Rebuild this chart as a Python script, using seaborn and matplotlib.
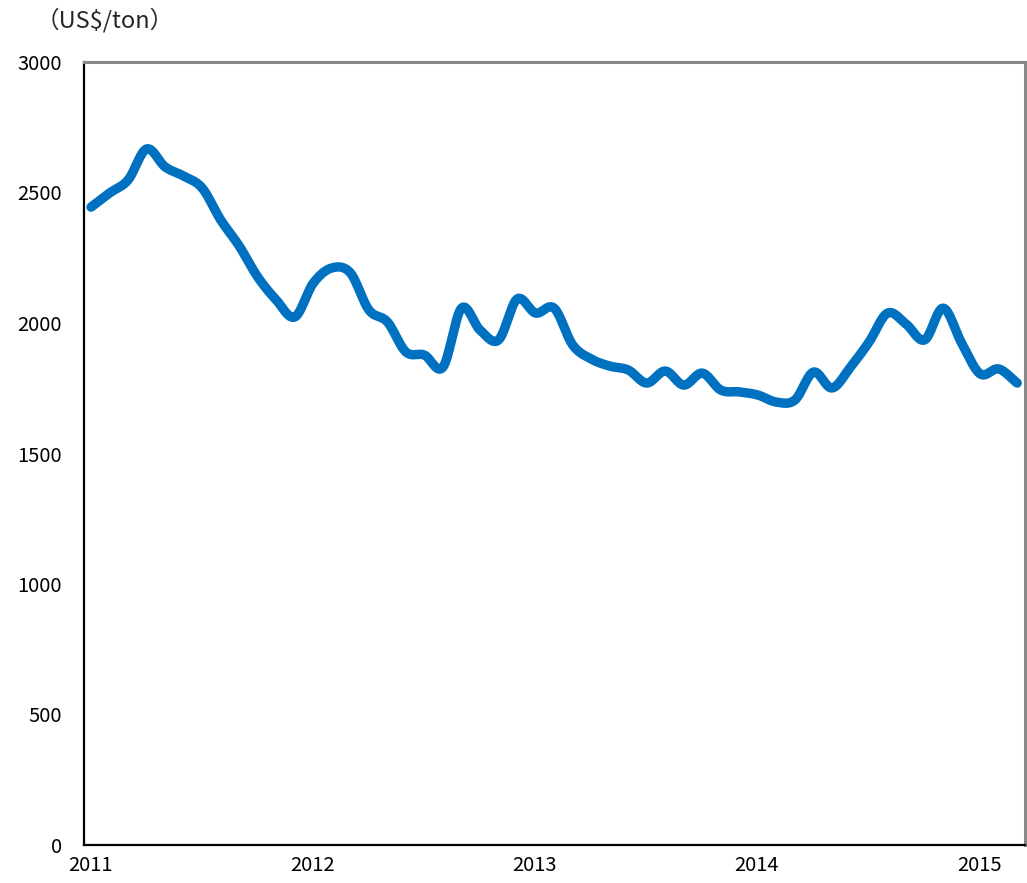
import numpy as np
import pandas as pd
import seaborn as sns
import matplotlib
matplotlib.use("Agg")
import matplotlib.pyplot as plt
from matplotlib.transforms import ScaledTranslation

# Monthly price, Jan 2011 - Mar 2015 (US$/ton)
prices = [2444, 2498, 2548, 2667, 2598, 2563, 2517, 2395, 2295, 2176, 2088, 2023,
          2153, 2211, 2192, 2050, 2004, 1889, 1877, 1831, 2057, 1973, 1935, 2092,
          2038, 2057, 1916, 1862, 1835, 1820, 1770, 1816, 1762, 1808, 1743, 1736,
          1724, 1697, 1705, 1812, 1751, 1831, 1927, 2038, 1996, 1935, 2057, 1923,
          1805, 1824, 1770]
start_year = 2011
year_ticks = [2011, 2012, 2013, 2014, 2015]
y_ticks = [0, 500, 1000, 1500, 2000, 2500, 3000]
unit_label = "（US$/ton）"

month_pos = start_year + (np.arange(len(prices)) + 0.38) / 12.0
df = pd.DataFrame({"t": month_pos, "price": prices})


def smooth(x, y, n=12):
    """Catmull-Rom style smoothing between consecutive points."""
    x = np.asarray(x, float)
    y = np.asarray(y, float)
    px = np.concatenate([[2 * x[0] - x[1]], x, [2 * x[-1] - x[-2]]])
    py = np.concatenate([[2 * y[0] - y[1]], y, [2 * y[-1] - y[-2]]])
    xs, ys = [], []
    s = np.linspace(0, 1, n, endpoint=False)
    for i in range(1, len(px) - 2):
        for arr, out in ((px, xs), (py, ys)):
            p0, p1, p2, p3 = arr[i - 1], arr[i], arr[i + 1], arr[i + 2]
            m1 = (p2 - p0) / 2.0
            m2 = (p3 - p1) / 2.0
            h00 = 2 * s**3 - 3 * s**2 + 1
            h10 = s**3 - 2 * s**2 + s
            h01 = -2 * s**3 + 3 * s**2
            h11 = s**3 - s**2
            out.extend(h00 * p1 + h10 * m1 + h01 * p2 + h11 * m2)
    xs.append(x[-1])
    ys.append(y[-1])
    return pd.DataFrame({"t": xs, "price": ys})


curve = smooth(df["t"], df["price"])

sns.set_theme(style="white")
plt.rcParams["font.family"] = ["Noto Sans CJK JP", "DejaVu Sans"]

fig = plt.figure(figsize=(10.27, 8.83), dpi=100)
ax = fig.add_axes([84 / 1027, 38 / 883, 941 / 1027, 783 / 883])

sns.lineplot(data=curve, x="t", y="price", ax=ax, color="#0070C0",
             linewidth=6.8, solid_capstyle="round", solid_joinstyle="round",
             sort=False, estimator=None)

ax.set_xlim(start_year, start_year + 50.8 / 12.0)
ax.set_ylim(0, 3000)
ax.set_xticks(year_ticks)
ax.set_xticklabels([str(y) for y in year_ticks])
ax.set_yticks(y_ticks)
ax.set_yticklabels([str(v) for v in y_ticks])
ax.set_xlabel("")
ax.set_ylabel("")

ax.tick_params(axis="both", direction="in", length=6, width=1, color="#555555",
               labelsize=14.5, labelcolor="black")
ax.tick_params(axis="x", pad=7)
ax.tick_params(axis="y", pad=16)
for lab in ax.get_xticklabels():
    lab.set_transform(lab.get_transform() + ScaledTranslation(6 / 100, 0, fig.dpi_scale_trans))

for side in ("left", "bottom"):
    ax.spines[side].set_color("black")
    ax.spines[side].set_linewidth(1.6)
for side in ("top", "right"):
    ax.spines[side].set_color("#888888")
    ax.spines[side].set_linewidth(2.2)
    ax.spines[side].set_visible(True)

fig.text(36 / 1027, 1 - 20 / 883, unit_label, fontsize=17, ha="left", va="center")

fig.savefig("out.png", dpi=100, facecolor="white")
